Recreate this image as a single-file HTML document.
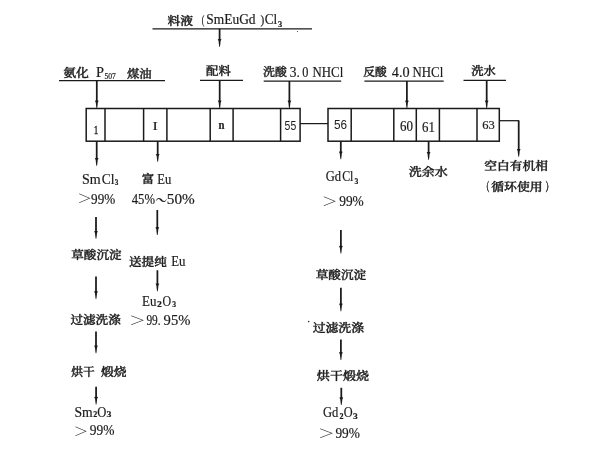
<!DOCTYPE html>
<html lang="zh"><head><meta charset="utf-8"><title>萃取分离流程</title>
<style>
html,body{margin:0;padding:0;background:#fff;}
body{width:604px;height:464px;overflow:hidden;}
svg{display:block;filter:blur(0.3px);}
svg line,svg rect{stroke:#1a1a1a;}
.ah{fill:#1a1a1a;stroke:none;}
text{fill:#1c1c1c;font-family:"Liberation Serif","Noto Serif CJK SC",serif;}
.k{font-weight:500;stroke:#1c1c1c;stroke-width:0.4px;}
.kp{font-weight:700;stroke-width:0.5px;}
.g{font-weight:400;}
.g6{font-weight:600;}
.l,.sb,.b{stroke:#1c1c1c;stroke-width:0.2px;}
.sb{font-weight:bold;}
.b{font-weight:bold;}
.h{stroke:#1c1c1c;stroke-width:0.35px;}
.d{font-family:"Liberation Sans","Noto Sans CJK SC",sans-serif;}
</style></head><body>
<svg width="604" height="464" viewBox="0 0 604 464">
<g>
<line x1="152.5" y1="28.85" x2="312" y2="28.85" stroke-width="1.25"/>
<polygon points="218.72,28.80 220.47,28.80 220.47,38.90 221.50,39.30 220.60,41.10 220.39,43.50 219.95,46.80 219.25,46.80 218.81,43.50 218.60,41.10 217.70,39.30 218.72,38.90" class="ah"/>
<line x1="59" y1="80.6" x2="165" y2="80.6" stroke-width="1.25"/>
<line x1="200" y1="80.4" x2="243" y2="80.4" stroke-width="1.25"/>
<line x1="263.7" y1="81" x2="341.2" y2="81" stroke-width="1.25"/>
<line x1="364.4" y1="81" x2="443.7" y2="81" stroke-width="1.25"/>
<line x1="463.5" y1="80.4" x2="506" y2="80.4" stroke-width="1.25"/>
<polygon points="95.92,80.60 97.67,80.60 97.67,100.40 98.70,100.80 97.80,102.60 97.59,105.00 97.15,108.30 96.45,108.30 96.01,105.00 95.80,102.60 94.90,100.80 95.92,100.40" class="ah"/>
<polygon points="218.82,80.40 220.57,80.40 220.57,100.40 221.60,100.80 220.70,102.60 220.49,105.00 220.05,108.30 219.35,108.30 218.91,105.00 218.70,102.60 217.80,100.80 218.82,100.40" class="ah"/>
<polygon points="288.52,81.00 290.27,81.00 290.27,100.40 291.30,100.80 290.40,102.60 290.19,105.00 289.75,108.30 289.05,108.30 288.61,105.00 288.40,102.60 287.50,100.80 288.52,100.40" class="ah"/>
<polygon points="406.02,81.00 407.77,81.00 407.77,100.40 408.80,100.80 407.90,102.60 407.69,105.00 407.25,108.30 406.55,108.30 406.11,105.00 405.90,102.60 405.00,100.80 406.02,100.40" class="ah"/>
<polygon points="485.82,80.40 487.57,80.40 487.57,100.40 488.60,100.80 487.70,102.60 487.49,105.00 487.05,108.30 486.35,108.30 485.91,105.00 485.70,102.60 484.80,100.80 485.82,100.40" class="ah"/>
<rect x="86.2" y="108.5" width="213.90000000000003" height="32.69999999999999" fill="none" stroke-width="1.5"/>
<line x1="105" y1="108.5" x2="105" y2="141.2" stroke-width="1.5"/>
<line x1="143.6" y1="108.5" x2="143.6" y2="141.2" stroke-width="1.5"/>
<line x1="166.9" y1="108.5" x2="166.9" y2="141.2" stroke-width="1.5"/>
<line x1="210.2" y1="108.5" x2="210.2" y2="141.2" stroke-width="1.5"/>
<line x1="233.1" y1="108.5" x2="233.1" y2="141.2" stroke-width="1.5"/>
<line x1="280.6" y1="108.5" x2="280.6" y2="141.2" stroke-width="1.5"/>
<line x1="300.1" y1="123.6" x2="328" y2="123.6" stroke-width="1.25"/>
<rect x="328" y="108.5" width="171.3" height="32.69999999999999" fill="none" stroke-width="1.5"/>
<line x1="351.2" y1="108.5" x2="351.2" y2="141.2" stroke-width="1.5"/>
<line x1="393.8" y1="108.5" x2="393.8" y2="141.2" stroke-width="1.5"/>
<line x1="416.3" y1="108.5" x2="416.3" y2="141.2" stroke-width="1.5"/>
<line x1="439.4" y1="108.5" x2="439.4" y2="141.2" stroke-width="1.5"/>
<line x1="477" y1="108.5" x2="477" y2="141.2" stroke-width="1.5"/>
<line x1="499.3" y1="120.7" x2="519.2" y2="120.7" stroke-width="1.25"/>
<polygon points="517.83,120.70 519.58,120.70 519.58,148.90 520.60,149.30 519.70,151.10 519.49,153.50 519.05,156.80 518.35,156.80 517.91,153.50 517.70,151.10 516.80,149.30 517.83,148.90" class="ah"/>
<polygon points="95.83,141.20 97.58,141.20 97.58,157.90 98.60,158.30 97.70,160.10 97.49,162.50 97.05,165.80 96.35,165.80 95.91,162.50 95.70,160.10 94.80,158.30 95.83,157.90" class="ah"/>
<polygon points="156.82,141.20 158.57,141.20 158.57,153.90 159.60,154.30 158.70,156.10 158.49,158.50 158.05,161.80 157.35,161.80 156.91,158.50 156.70,156.10 155.80,154.30 156.82,153.90" class="ah"/>
<polygon points="339.93,141.20 341.68,141.20 341.68,151.40 342.70,151.80 341.80,153.60 341.59,156.00 341.15,159.30 340.45,159.30 340.01,156.00 339.80,153.60 338.90,151.80 339.93,151.40" class="ah"/>
<polygon points="427.73,141.20 429.48,141.20 429.48,151.90 430.50,152.30 429.60,154.10 429.39,156.50 428.95,159.80 428.25,159.80 427.81,156.50 427.60,154.10 426.70,152.30 427.73,151.90" class="ah"/>
<polygon points="95.12,217.00 96.88,217.00 96.88,230.90 97.90,231.30 97.00,233.10 96.79,235.50 96.35,238.80 95.65,238.80 95.21,235.50 95.00,233.10 94.10,231.30 95.12,230.90" class="ah"/>
<polygon points="95.12,276.40 96.88,276.40 96.88,291.10 97.90,291.50 97.00,293.30 96.79,295.70 96.35,299.00 95.65,299.00 95.21,295.70 95.00,293.30 94.10,291.50 95.12,291.10" class="ah"/>
<polygon points="95.12,331.50 96.88,331.50 96.88,345.40 97.90,345.80 97.00,347.60 96.79,350.00 96.35,353.30 95.65,353.30 95.21,350.00 95.00,347.60 94.10,345.80 95.12,345.40" class="ah"/>
<polygon points="95.22,386.80 96.97,386.80 96.97,396.70 98.00,397.10 97.10,398.90 96.89,401.30 96.45,404.60 95.75,404.60 95.31,401.30 95.10,398.90 94.20,397.10 95.22,396.70" class="ah"/>
<polygon points="156.43,210.10 158.18,210.10 158.18,227.00 159.20,227.40 158.30,229.20 158.09,231.60 157.65,234.90 156.95,234.90 156.51,231.60 156.30,229.20 155.40,227.40 156.43,227.00" class="ah"/>
<polygon points="156.53,270.30 158.28,270.30 158.28,283.40 159.30,283.80 158.40,285.60 158.19,288.00 157.75,291.30 157.05,291.30 156.61,288.00 156.40,285.60 155.50,283.80 156.53,283.40" class="ah"/>
<polygon points="340.02,230.10 341.77,230.10 341.77,245.70 342.80,246.10 341.90,247.90 341.69,250.30 341.25,253.60 340.55,253.60 340.11,250.30 339.90,247.90 339.00,246.10 340.02,245.70" class="ah"/>
<polygon points="340.02,287.80 341.77,287.80 341.77,303.40 342.80,303.80 341.90,305.60 341.69,308.00 341.25,311.30 340.55,311.30 340.11,308.00 339.90,305.60 339.00,303.80 340.02,303.40" class="ah"/>
<polygon points="340.02,339.40 341.77,339.40 341.77,352.00 342.80,352.40 341.90,354.20 341.69,356.60 341.25,359.90 340.55,359.90 340.11,356.60 339.90,354.20 339.00,352.40 340.02,352.00" class="ah"/>
<polygon points="340.43,387.70 342.18,387.70 342.18,397.20 343.20,397.60 342.30,399.40 342.09,401.80 341.65,405.10 340.95,405.10 340.51,401.80 340.30,399.40 339.40,397.60 340.43,397.20" class="ah"/>
<circle cx="308.7" cy="321.6" r="0.8" fill="#333" stroke="none"/>
<circle cx="297.5" cy="31.5" r="0.6" fill="#444" stroke="none"/>
</g>
<g>
<text><tspan x="167.40" y="24.75" font-size="11.9" class="k" textLength="25.60" lengthAdjust="spacingAndGlyphs">料液</tspan> <tspan x="201.80" y="24.40" font-size="12.5" class="l" textLength="2.65" lengthAdjust="spacingAndGlyphs">(</tspan><tspan x="206.30" y="24.45" font-size="14" class="l" textLength="49.25" lengthAdjust="spacingAndGlyphs">SmEuGd</tspan> <tspan x="260.60" y="23.70" font-size="12.5" class="l" textLength="3.75" lengthAdjust="spacingAndGlyphs">)</tspan><tspan x="264.80" y="24.45" font-size="14" class="l" textLength="12.35" lengthAdjust="spacingAndGlyphs">Cl</tspan><tspan x="278.00" y="26.60" font-size="8.2" class="sb" textLength="4.20" lengthAdjust="spacingAndGlyphs">3</tspan></text>
<text><tspan x="63.25" y="77.20" font-size="11.9" class="k" textLength="25.70" lengthAdjust="spacingAndGlyphs">氨化</tspan> <tspan x="96.00" y="77.05" font-size="14" class="l" textLength="8.00" lengthAdjust="spacingAndGlyphs">P</tspan><tspan x="104.45" y="78.75" font-size="7.6" class="l" textLength="11.35" lengthAdjust="spacingAndGlyphs">507</tspan> <tspan x="127.00" y="78.10" font-size="11.9" class="k" textLength="24.75" lengthAdjust="spacingAndGlyphs">煤油</tspan></text>
<text><tspan x="206.00" y="74.55" font-size="11.9" class="k" textLength="24.80" lengthAdjust="spacingAndGlyphs">配料</tspan></text>
<text><tspan x="263.00" y="75.55" font-size="11.9" class="k" textLength="23.85" lengthAdjust="spacingAndGlyphs">洗酸</tspan><tspan x="289.80" y="76.55" font-size="14" class="l" textLength="10.10" lengthAdjust="spacingAndGlyphs">3.</tspan> <tspan x="302.25" y="76.55" font-size="14" class="l" textLength="6.15" lengthAdjust="spacingAndGlyphs">0</tspan> <tspan x="312.60" y="76.55" font-size="14" class="l" textLength="30.60" lengthAdjust="spacingAndGlyphs">NHCl</tspan></text>
<text><tspan x="363.25" y="75.55" font-size="11.9" class="k" textLength="23.60" lengthAdjust="spacingAndGlyphs">反酸</tspan> <tspan x="391.80" y="76.55" font-size="14" class="l" textLength="17.80" lengthAdjust="spacingAndGlyphs">4.0</tspan> <tspan x="412.60" y="76.55" font-size="14" class="l" textLength="30.60" lengthAdjust="spacingAndGlyphs">NHCl</tspan></text>
<text><tspan x="471.20" y="75.10" font-size="11.9" class="k" textLength="24.55" lengthAdjust="spacingAndGlyphs">洗水</tspan></text>
<text><tspan x="93.65" y="133.55" font-size="13" class="l h" textLength="4.55" lengthAdjust="spacingAndGlyphs">1</tspan></text>
<text><tspan x="152.45" y="129.60" font-size="13" class="l" textLength="5.30" lengthAdjust="spacingAndGlyphs">I</tspan></text>
<text><tspan x="218.40" y="128.75" font-size="13" class="b" textLength="6.00" lengthAdjust="spacingAndGlyphs">n</tspan></text>
<text><tspan x="284.60" y="129.80" font-size="12.5" class="d" textLength="11.60" lengthAdjust="spacingAndGlyphs">55</tspan></text>
<text><tspan x="334.05" y="129.00" font-size="12.5" class="d" textLength="13.10" lengthAdjust="spacingAndGlyphs">56</tspan></text>
<text><tspan x="400.00" y="130.80" font-size="14" class="l" textLength="12.95" lengthAdjust="spacingAndGlyphs">60</tspan></text>
<text><tspan x="422.05" y="131.75" font-size="14" class="l" textLength="12.85" lengthAdjust="spacingAndGlyphs">61</tspan></text>
<text><tspan x="482.25" y="129.20" font-size="13.5" class="l" textLength="12.55" lengthAdjust="spacingAndGlyphs">63</tspan></text>
<text><tspan x="82.05" y="183.75" font-size="14" class="l" textLength="18.75" lengthAdjust="spacingAndGlyphs">Sm</tspan><tspan x="101.85" y="183.75" font-size="14" class="l" textLength="12.70" lengthAdjust="spacingAndGlyphs">Cl</tspan><tspan x="114.80" y="185.40" font-size="8.2" class="sb" textLength="3.60" lengthAdjust="spacingAndGlyphs">3</tspan></text>
<text><tspan x="141.65" y="183.10" font-size="11.9" class="k" textLength="12.35" lengthAdjust="spacingAndGlyphs">富</tspan> <tspan x="157.20" y="183.75" font-size="14" class="l" textLength="14.00" lengthAdjust="spacingAndGlyphs">Eu</tspan></text>
<text><tspan x="77.20" y="203.25" font-size="12.5" class="g" textLength="15.00" lengthAdjust="spacingAndGlyphs">＞</tspan><tspan x="91.05" y="203.75" font-size="14" class="l" textLength="24.15" lengthAdjust="spacingAndGlyphs">99%</tspan></text>
<text><tspan x="131.75" y="203.75" font-size="14" class="l" textLength="23.25" lengthAdjust="spacingAndGlyphs">45%</tspan><tspan x="155.25" y="204.70" font-size="13.5" class="g6" textLength="12.05" lengthAdjust="spacingAndGlyphs">～</tspan><tspan x="166.85" y="203.75" font-size="14" class="l" textLength="27.95" lengthAdjust="spacingAndGlyphs">50%</tspan></text>
<text><tspan x="325.65" y="181.45" font-size="14" class="l" textLength="15.35" lengthAdjust="spacingAndGlyphs">Gd</tspan><tspan x="342.20" y="181.45" font-size="14" class="l" textLength="11.20" lengthAdjust="spacingAndGlyphs">Cl</tspan><tspan x="354.55" y="183.80" font-size="8.2" class="sb" textLength="3.85" lengthAdjust="spacingAndGlyphs">3</tspan></text>
<text><tspan x="321.85" y="206.25" font-size="12.5" class="g" textLength="15.95" lengthAdjust="spacingAndGlyphs">＞</tspan> <tspan x="339.20" y="206.25" font-size="14" class="l" textLength="24.55" lengthAdjust="spacingAndGlyphs">99%</tspan></text>
<text><tspan x="408.85" y="175.55" font-size="11.9" class="k" textLength="38.95" lengthAdjust="spacingAndGlyphs">洗余水</tspan></text>
<text><tspan x="484.25" y="170.05" font-size="11.9" class="k" textLength="63.75" lengthAdjust="spacingAndGlyphs">空白有机相</tspan></text>
<text><tspan x="482.40" y="190.95" font-size="11.9" class="k kp" textLength="6.80" lengthAdjust="spacingAndGlyphs">（</tspan><tspan x="491.25" y="191.10" font-size="11.9" class="k" textLength="51.50" lengthAdjust="spacingAndGlyphs">循环使用</tspan><tspan x="545.40" y="190.95" font-size="11.9" class="k kp" textLength="7.70" lengthAdjust="spacingAndGlyphs">）</tspan></text>
<text><tspan x="71.20" y="258.60" font-size="11.9" class="k" textLength="50.40" lengthAdjust="spacingAndGlyphs">草酸沉淀</tspan></text>
<text><tspan x="129.00" y="265.70" font-size="11.9" class="k" textLength="37.85" lengthAdjust="spacingAndGlyphs">送提纯</tspan> <tspan x="171.20" y="265.75" font-size="14" class="l" textLength="14.25" lengthAdjust="spacingAndGlyphs">Eu</tspan></text>
<text><tspan x="142.00" y="305.80" font-size="14" class="l" textLength="14.40" lengthAdjust="spacingAndGlyphs">Eu</tspan><tspan x="157.00" y="307.00" font-size="8.2" class="sb" textLength="4.80" lengthAdjust="spacingAndGlyphs">2</tspan><tspan x="162.60" y="305.80" font-size="14" class="l" textLength="8.60" lengthAdjust="spacingAndGlyphs">O</tspan><tspan x="172.35" y="307.00" font-size="8.2" class="sb" textLength="3.85" lengthAdjust="spacingAndGlyphs">3</tspan></text>
<text><tspan x="70.40" y="323.70" font-size="11.9" class="k" textLength="50.40" lengthAdjust="spacingAndGlyphs">过滤洗涤</tspan></text>
<text><tspan x="129.00" y="325.25" font-size="12.5" class="g" textLength="16.90" lengthAdjust="spacingAndGlyphs">＞</tspan> <tspan x="146.40" y="325.20" font-size="14" class="l" textLength="14.20" lengthAdjust="spacingAndGlyphs">99.</tspan> <tspan x="163.60" y="325.20" font-size="14" class="l" textLength="26.80" lengthAdjust="spacingAndGlyphs">95%</tspan></text>
<text><tspan x="71.25" y="375.70" font-size="11.9" class="k" textLength="23.55" lengthAdjust="spacingAndGlyphs">烘干</tspan> <tspan x="101.00" y="375.70" font-size="11.9" class="k" textLength="25.60" lengthAdjust="spacingAndGlyphs">煅烧</tspan></text>
<text><tspan x="74.50" y="416.75" font-size="14" class="l" textLength="18.25" lengthAdjust="spacingAndGlyphs">Sm</tspan><tspan x="93.20" y="417.05" font-size="8.2" class="sb" textLength="4.00" lengthAdjust="spacingAndGlyphs">2</tspan><tspan x="97.25" y="416.75" font-size="14" class="l" textLength="9.10" lengthAdjust="spacingAndGlyphs">O</tspan><tspan x="106.45" y="417.05" font-size="8.2" class="sb" textLength="4.95" lengthAdjust="spacingAndGlyphs">3</tspan></text>
<text><tspan x="73.60" y="436.05" font-size="12.5" class="g" textLength="15.00" lengthAdjust="spacingAndGlyphs">＞</tspan> <tspan x="89.85" y="435.25" font-size="14" class="l" textLength="24.70" lengthAdjust="spacingAndGlyphs">99%</tspan></text>
<text><tspan x="315.65" y="278.60" font-size="11.9" class="k" textLength="50.50" lengthAdjust="spacingAndGlyphs">草酸沉淀</tspan></text>
<text><tspan x="312.65" y="332.30" font-size="11.9" class="k" textLength="51.35" lengthAdjust="spacingAndGlyphs">过滤洗涤</tspan></text>
<text><tspan x="316.85" y="379.50" font-size="11.9" class="k" textLength="52.15" lengthAdjust="spacingAndGlyphs">烘干煅烧</tspan></text>
<text><tspan x="323.05" y="417.05" font-size="14" class="l" textLength="15.35" lengthAdjust="spacingAndGlyphs">Gd</tspan><tspan x="339.40" y="419.00" font-size="8.2" class="sb" textLength="4.00" lengthAdjust="spacingAndGlyphs">2</tspan><tspan x="343.65" y="417.05" font-size="14" class="l" textLength="8.90" lengthAdjust="spacingAndGlyphs">O</tspan><tspan x="353.05" y="419.00" font-size="8.2" class="sb" textLength="4.75" lengthAdjust="spacingAndGlyphs">3</tspan></text>
<text><tspan x="318.05" y="438.25" font-size="12.5" class="g" textLength="16.85" lengthAdjust="spacingAndGlyphs">＞</tspan> <tspan x="335.45" y="438.20" font-size="14" class="l" textLength="24.50" lengthAdjust="spacingAndGlyphs">99%</tspan></text>
</g>
</svg>
</body></html>
